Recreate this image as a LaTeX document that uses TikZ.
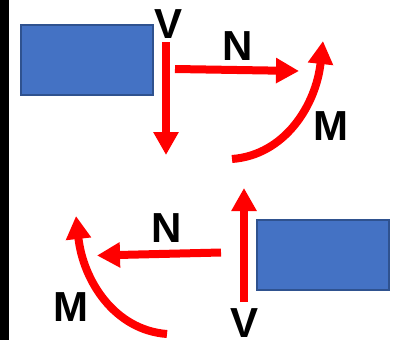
\documentclass[tikz,border=0pt]{standalone}
\usepackage{fontspec}
\setmainfont{Liberation Sans}
\usetikzlibrary{arrows.meta}
\definecolor{boxfill}{HTML}{4472C4}
\definecolor{boxline}{HTML}{2F528F}
\tikzset{
  member/.style={draw=boxline,fill=boxfill,line width=2pt,minimum width=132pt,minimum height=70pt,inner sep=0pt},
  force/.style={draw=red,line width=8pt,-{Triangle[length=23pt,width=24pt,fill=red]}},
  lbl/.style={font=\fontsize{42}{42}\selectfont\bfseries,inner sep=0pt}
}
\begin{document}
\begin{tikzpicture}[x=1pt,y=-1pt]
  \useasboundingbox (0,0) rectangle (393,340);

  \fill[black] (0,0) rectangle (8.5,340);

  \node[member] (box1) at (87,60)  {};
  \node[member] (box2) at (323,255) {};

  \begin{scope}[every node/.style={lbl}]
    \node (v1) at (169,24)  {V};
    \node (n1) at (238,46)  {N};
    \node (m1) at (331,126) {M};
    \node (v2) at (245,323) {V};
    \node (n2) at (167,228) {N};
    \node (m2) at (71,307)  {M};
  \end{scope}

  \coordinate (v1a) at (166,42);
  \coordinate (v1b) at (166,155);
  \coordinate (n1a) at (175,69);
  \coordinate (n1b) at (299,71);
  \coordinate (m1a) at (232,159);
  \coordinate (m1b) at (323,41);
  \coordinate (v2a) at (244,302);
  \coordinate (v2b) at (244,188);
  \coordinate (n2a) at (221,252.5);
  \coordinate (n2b) at (97,255.5);
  \coordinate (m2a) at (167,334);
  \coordinate (m2b) at (76,216);

  \draw[force] (v1a) -- (v1b);
  \draw[force] (n1a) -- (n1b);
  \draw[force] (m1a) .. controls (285,155) and (316,105) .. (m1b);
  \draw[force] (v2a) -- (v2b);
  \draw[force] (n2a) -- (n2b);
  \draw[force] (m2a) .. controls (114,330) and (83,280) .. (m2b);

\end{tikzpicture}
\end{document}
